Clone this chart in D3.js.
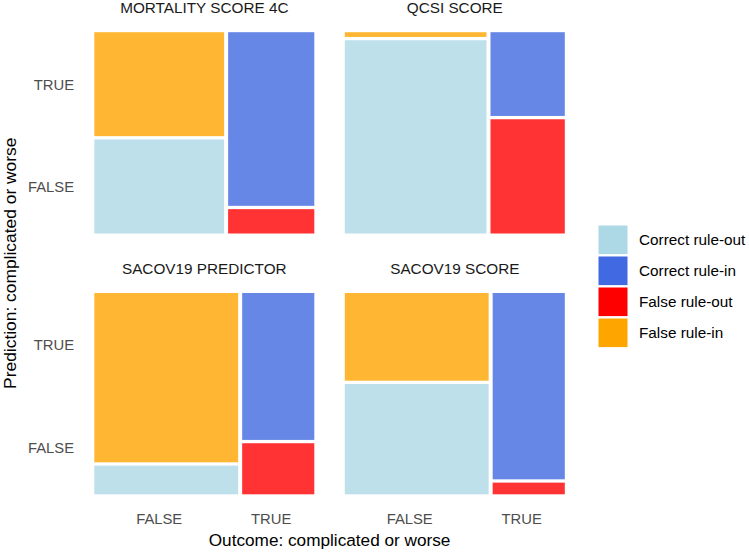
<!DOCTYPE html>
<html>
<head>
<meta charset="utf-8">
<script src="https://cdn.jsdelivr.net/npm/d3@7"></script>
<style>
  html, body { margin: 0; padding: 0; background: #fff; }
  svg { display: block; font-family: "Liberation Sans", Arial, Helvetica, sans-serif; }
</style>
</head>
<body>
<svg id="chart" width="749" height="553"></svg>
<script>
// ---- data ----
const facets = ["MORTALITY SCORE 4C", "QCSI SCORE", "SACOV19 PREDICTOR", "SACOV19 SCORE"];
const outcomeLevels = ["FALSE", "TRUE"];
const predictionLevels = ["FALSE", "TRUE"];
const categories = ["Correct rule-out", "Correct rule-in", "False rule-out", "False rule-in"];
const categoryColors = ["#ADD8E6", "#4169E1", "#FF0000", "#FFA500"];
// share of cases with outcome FALSE (column widths)
const outcomeFalseShare = [0.601, 0.656, 0.666, 0.666];
// share of prediction TRUE within each outcome column
const predTrueGivenOutcomeFalse = [0.525, 0.024, 0.855, 0.443];
const predTrueGivenOutcomeTrue = [0.877, 0.423, 0.742, 0.941];

// ---- layout ----
const svg = d3.select("#chart");
const panelW = 220, panelH = 201.3;
const panelX = [94.3, 344.8];
const panelY = [32.2, 293];
const gapX = 4, gapY = 3.3;

function category(outcome, pred) {
  if (outcome === "FALSE") return pred === "FALSE" ? "Correct rule-out" : "False rule-in";
  return pred === "FALSE" ? "False rule-out" : "Correct rule-in";
}
const color = d3.scaleOrdinal().domain(categories).range(categoryColors);

function cells(i) {
  const p = outcomeFalseShare[i];
  const colShares = [p, 1 - p];
  const predTrue = [predTrueGivenOutcomeFalse[i], predTrueGivenOutcomeTrue[i]];
  const out = [];
  let cx = 0;
  outcomeLevels.forEach((o, j) => {
    const w = colShares[j];
    const tTrue = predTrue[j];
    out.push({ outcome: o, pred: "TRUE", x0: cx, x1: cx + w, j, y0: 0, y1: tTrue, k: 0 });
    out.push({ outcome: o, pred: "FALSE", x0: cx, x1: cx + w, j, y0: tTrue, y1: 1, k: 1 });
    cx += w;
  });
  return out;
}

facets.forEach((name, i) => {
  const col = i % 2, row = Math.floor(i / 2);
  const x = d3.scaleLinear().domain([0, 1]).range([panelX[col], panelX[col] + panelW - gapX]);
  const y = d3.scaleLinear().domain([0, 1]).range([panelY[row], panelY[row] + panelH - gapY]);
  const g = svg.append("g");
  g.selectAll("rect").data(cells(i)).join("rect")
    .attr("x", d => x(d.x0) + d.j * gapX)
    .attr("width", d => x(d.x1) - x(d.x0))
    .attr("y", d => y(d.y0) + d.k * gapY)
    .attr("height", d => y(d.y1) - y(d.y0))
    .attr("fill", d => color(category(d.outcome, d.pred)))
    .attr("fill-opacity", 0.8);
  svg.append("text")
    .attr("x", panelX[col] + panelW / 2)
    .attr("y", panelY[row] - 19)
    .attr("text-anchor", "middle")
    .attr("font-size", 15.3)
    .attr("fill", "#1a1a1a")
    .text(name);
});

// ---- axes (breaks from first facet, shared scales) ----
{
  const p = outcomeFalseShare[0];
  const xb = d3.scaleLinear().domain([0, 1]).range([0, panelW - gapX]);
  const xCenters = [xb(p / 2), xb(p) + gapX + (xb(1) - xb(p)) / 2];
  const yb = d3.scaleLinear().domain([0, 1]).range([0, panelH - gapY]);
  const t = predTrueGivenOutcomeFalse[0];
  const yCenters = { "TRUE": yb(t / 2), "FALSE": yb(t) + gapY + (yb(1) - yb(t)) / 2 };

  panelX.forEach(px => {
    outcomeLevels.forEach((o, j) => {
      svg.append("text")
        .attr("x", px + xCenters[j])
        .attr("y", 524)
        .attr("text-anchor", "middle")
        .attr("font-size", 14.8)
        .attr("fill", "#4d4d4d")
        .text(o);
    });
  });
  panelY.forEach(py => {
    predictionLevels.forEach(pl => {
      svg.append("text")
        .attr("x", 74)
        .attr("y", py + yCenters[pl])
        .attr("dy", "0.36em")
        .attr("text-anchor", "end")
        .attr("font-size", 14.8)
        .attr("fill", "#4d4d4d")
        .text(pl);
    });
  });
}

// axis titles
svg.append("text")
  .attr("x", (panelX[0] + panelX[1] + panelW) / 2)
  .attr("y", 546)
  .attr("text-anchor", "middle")
  .attr("font-size", 17.2)
  .attr("fill", "#000")
  .text("Outcome: complicated or worse");
svg.append("text")
  .attr("transform", `translate(15.5, ${(panelY[0] + panelY[1] + panelH) / 2}) rotate(-90)`)
  .attr("text-anchor", "middle")
  .attr("font-size", 17.4)
  .attr("fill", "#000")
  .text("Prediction: complicated or worse");

// ---- legend ----
const legend = svg.append("g").attr("transform", "translate(598.5, 225.5)");
const li = legend.selectAll("g").data(categories).join("g")
  .attr("transform", (d, i) => `translate(0, ${i * 31})`);
li.append("rect")
  .attr("width", 29).attr("height", 28.6)
  .attr("fill", d => color(d));
li.append("text")
  .attr("x", 40.5).attr("y", 14.3).attr("dy", "0.36em")
  .attr("font-size", 15.3)
  .attr("fill", "#000")
  .text(d => d);
</script>
</body>
</html>
